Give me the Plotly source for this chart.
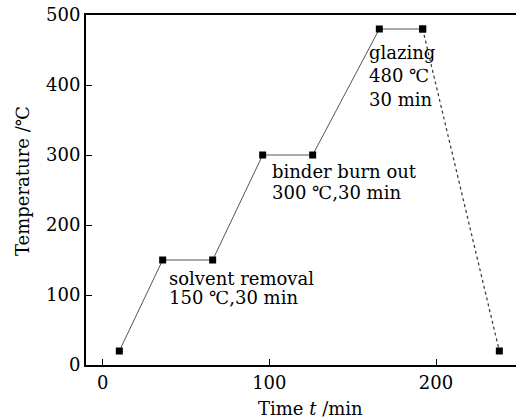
import plotly.graph_objects as go

# Data
time_min = [10, 36, 66, 96, 126, 166, 192]
temp_c = [20, 150, 150, 300, 300, 480, 480]
cool_time = [192, 238]
cool_temp = [480, 20]

x_ticks = [0, 100, 200]
y_ticks = [0, 100, 200, 300, 400, 500]

label_lines = ["solvent removal", "150 ℃,30 min",
               "binder burn out", "300 ℃,30 min",
               "glazing", "480 ℃", "30 min"]
label_x = [38.6, 38.6, 100.4, 100.4, 158.4, 158.4, 158.4]
label_y = [123, 96, 276, 246, 446, 413, 379]

FONT = "DejaVu Serif"
FS = 18

fig = go.Figure()
fig.add_trace(go.Scatter(
    x=time_min, y=temp_c, mode="lines+markers",
    line=dict(color="#555555", width=1),
    marker=dict(symbol="square", size=7, color="black"),
    showlegend=False, cliponaxis=False))
fig.add_trace(go.Scatter(
    x=cool_time, y=cool_temp, mode="lines+markers",
    line=dict(color="#333333", width=1.2, dash="dot"),
    marker=dict(symbol="square", size=7, color="black"),
    showlegend=False, cliponaxis=False))

annotations = []
for t, x, y in zip(label_lines, label_x, label_y):
    annotations.append(dict(text=t, x=x, y=y, xref="x", yref="y",
                            xanchor="left", yanchor="middle", showarrow=False,
                            font=dict(family=FONT, size=FS, color="black")))
annotations.append(dict(text="Time <i>t</i> /min", x=124.4, y=(365 - 408) / 350,
                        xref="x", yref="paper", xanchor="center", yanchor="middle",
                        showarrow=False, font=dict(family=FONT, size=FS, color="black")))
annotations.append(dict(text="Temperature /℃", x=(22 - 86) / 430, y=(365 - 181) / 350,
                        xref="paper", yref="paper", xanchor="center", yanchor="middle",
                        textangle=-90, showarrow=False,
                        font=dict(family=FONT, size=FS, color="black")))

fig.update_layout(
    width=516, height=419,
    margin=dict(l=86, r=0, t=15, b=54),
    paper_bgcolor="white", plot_bgcolor="white",
    font=dict(family=FONT, size=FS, color="black"),
    annotations=annotations,
)

fig.update_xaxes(range=[-10, 248], tickvals=x_ticks, ticks="inside", ticklen=6,
                 tickwidth=1.2, tickcolor="black", showline=True, linecolor="black",
                 linewidth=2, mirror=True, showgrid=False, zeroline=False,
                 tickfont=dict(family=FONT, size=FS, color="black"))
fig.update_yaxes(range=[0, 500], tickvals=y_ticks, ticks="inside", ticklen=6,
                 tickwidth=1.2, tickcolor="black", showline=True, linecolor="black",
                 linewidth=2, showgrid=False, zeroline=False,
                 tickfont=dict(family=FONT, size=FS, color="black"))

fig.write_html("out.html", config={"displayModeBar": False},
               post_script="document.body.style.margin='0';document.body.style.overflow='hidden';")
